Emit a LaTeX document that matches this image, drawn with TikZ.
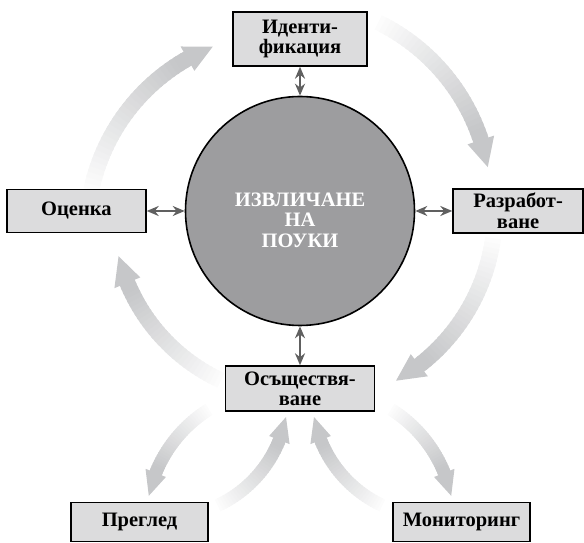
\documentclass[tikz,border=0pt]{standalone}
\usepackage{fontspec}
\setmainfont{Liberation Serif}
\usepackage{tikz}
\usetikzlibrary{arrows.meta,positioning,calc,backgrounds}
\definecolor{ringgray}{RGB}{198,199,201}
\definecolor{boxfill}{RGB}{220,220,221}
\definecolor{corefill}{RGB}{157,157,159}
\definecolor{linkgray}{RGB}{96,96,96}

\newcommand{\fadearc}[7]{%
  \pgfmathsetmacro\hbase{#4-sign(#4-#3)*deg(#7/#2)}
  \foreach \i in {0,...,29}{
    \pgfmathsetmacro\angA{#3+(\hbase-#3)*\i/30}
    \pgfmathsetmacro\angB{#3+(\hbase-#3)*(\i+1.5)/30}
    \pgfmathsetmacro\lev{min(100,6+3.4*\i)}
    \draw[line width=#5pt,ringgray!\lev!white] ($(#1)+(\angA:#2pt)$) arc[start angle=\angA,end angle=\angB,radius=#2pt];
  }
  \fill[ringgray] ($(#1)+(\hbase:#2pt+#6pt/2)$) -- ($(#1)+(#4:#2pt)$) -- ($(#1)+(\hbase:#2pt-#6pt/2)$) -- cycle;
}

\begin{document}
\begin{tikzpicture}[x=1pt,y=1pt,font=\fontsize{20.5}{20.5}\selectfont\bfseries]
\tikzset{stage/.style={draw=black,line width=1.6pt,fill=boxfill,align=center,inner sep=0pt},
  link/.style={<->,>={Stealth[length=12pt,width=10pt]},line width=2pt,linkgray}}
\useasboundingbox (0,0) rectangle (584,543);
\node[draw=black,line width=1.6pt,fill=corefill,circle,minimum size=229pt,inner sep=0pt] (core) at (300,332) {};
\node[text=white,align=center] (lessons) at ([yshift=-9pt]core.center) {ИЗВЛИЧАНЕ\\НА\\ПОУКИ};
\node[stage,above=29pt of core,minimum width=134pt,minimum height=54pt] (ident) {Иденти-\\фикация};
\node[stage,left=38pt of core,minimum width=139pt,minimum height=43pt] (eval) {Оценка};
\node[stage,right=37pt of core,minimum width=130pt,minimum height=44pt] (dev) {Разработ-\\ване};
\node[stage,below=39pt of core,minimum width=149pt,minimum height=45pt] (impl) {Осъществя-\\ване};
\node[stage,minimum width=137pt,minimum height=39pt] (review) at (139.5,21) {Преглед};
\node[stage,minimum width=137pt,minimum height=39pt] (monitor) at (461.5,21) {Мониторинг};
\draw[link] (ident) -- (core);
\draw[link] (core) -- (impl);
\draw[link] (eval) -- (core);
\draw[link] (core) -- (dev);
\begin{scope}[on background layer]
\fadearc{285,312}{198}{168}{111.4}{16}{28}{28}
\fadearc{290,340}{201}{64}{10.3}{16}{28}{28}
\fadearc{core}{195}{-8}{-60.5}{16}{28}{28}
\fadearc{core}{187}{245}{194}{16}{28}{28}
\fadearc{280,20}{134}{122}{168.3}{13}{22}{24}
\fadearc{320,20}{134}{58}{11.7}{13}{22}{24}
\fadearc{166,148}{122}{-65}{-10.4}{13}{22}{24}
\fadearc{434,148}{122}{245}{190.4}{13}{22}{24}
\end{scope}
\end{tikzpicture}
\end{document}
